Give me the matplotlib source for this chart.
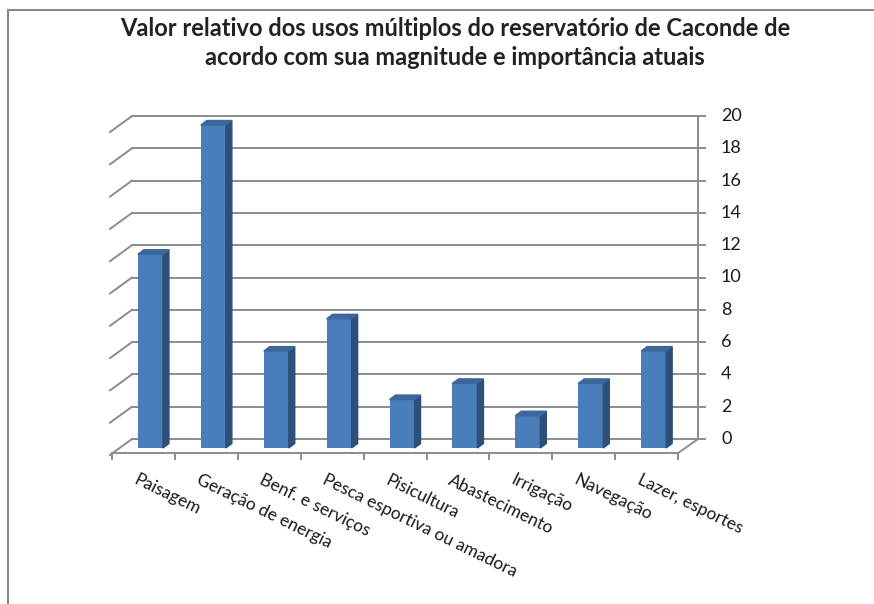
import matplotlib.pyplot as plt
from matplotlib.patches import Polygon
from matplotlib.lines import Line2D

categorias = ['Paisagem', 'Geração de energia', 'Benf. e serviços',
              'Pesca esportiva ou amadora', 'Pisicultura', 'Abastecimento',
              'Irrigação', 'Navegação', 'Lazer, esportes']
valores = [12, 20, 6, 8, 3, 4, 2, 4, 6]
yticks = [0, 2, 4, 6, 8, 10, 12, 14, 16, 18, 20]

titulo = ('Valor relativo dos usos múltiplos do reservatório de Caconde de\n'
          'acordo com sua magnitude e importância atuais')

# escala: 1 categoria = 62.9 px, 1 unidade = 16.15 px
PX = 62.9
PY = 16.15

fig = plt.figure(figsize=(8.74, 6.04), dpi=100)
ax = fig.add_axes([0, 0, 1, 1])
ax.set_xlim(-0.5 - 112 / PX, -0.5 + (874 - 112) / PX)
ax.set_ylim((439 - 604) / PY, 439 / PY)
ax.axis('off')

grid = '#8c8c8c'
n = len(categorias)
# deslocamento de profundidade (parede de fundo -> frente)
dx, dy = 20 / PX, 14 / PY
x_back0, x_back1 = -0.5 + dx, n - 0.5 + dx

# parede de fundo + parede lateral
for v in yticks:
    ax.plot([x_back0, x_back1 + 7 / PX], [v, v], color=grid, lw=1.4, zorder=1)
    ax.plot([x_back0, -0.5 - 2 / PX], [v, v - 16 / PY], color=grid, lw=1.4, zorder=1)
ax.plot([x_back1, x_back1], [0, yticks[-1]], color=grid, lw=1.4, zorder=1)

# chão
ax.plot([-0.5, n - 0.5], [-dy, -dy], color=grid, lw=1.4, zorder=1)
ax.plot([n - 0.5, x_back1], [-dy, 0], color=grid, lw=1.4, zorder=1)
for i in range(n + 1):
    ax.plot([i - 0.5, i - 0.5], [-dy, -dy - 6 / PY], color=grid, lw=1.4, zorder=1)

# barras 3D
frente, lado, topo = '#4a7ebb', '#2d4f7c', '#3c679c'
base = -9 / PY
largura = 25 / PX
ddx, ddy = 6 / PX, 4.5 / PY
xs = [i + 7 / PX for i in range(n)]
ax.bar(xs, valores, width=largura, bottom=base, color=frente, zorder=3)
for x, v in zip(xs, valores):
    xl, xr, t = x - largura / 2, x + largura / 2, base + v
    ax.add_patch(Polygon([(xr, base), (xr + ddx, base + ddy), (xr + ddx, t + ddy), (xr, t)],
                         closed=True, color=lado, zorder=3))
    ax.add_patch(Polygon([(xl, t), (xl + ddx, t + ddy), (xr + ddx, t + ddy), (xr, t)],
                         closed=True, color=topo, zorder=3))

# rótulos do eixo y
for v in yticks:
    ax.text(-0.5 + (721 - 112) / PX, v, str(v), ha='left', va='center',
            fontsize=13, family='Lato', color='#1a1a1a')

# rótulos das categorias
for i, c in enumerate(categorias):
    ax.text(i - 5 / PX, (439 - 472) / PY, c,
            rotation=-26, rotation_mode='anchor', ha='left', va='top',
            fontsize=12.5, family='Lato', color='#1a1a1a')

fig.text(0.521, 1 - 17 / 604, titulo, ha='center', va='top', fontsize=17,
         family='Lato', fontweight='bold', color='#222222', linespacing=1.3)

# borda do gráfico
fig.add_artist(Line2D([8 / 874, 1], [1 - 10 / 604, 1 - 10 / 604], color='#888888', lw=1.5))
fig.add_artist(Line2D([8 / 874, 8 / 874], [0, 1 - 10 / 604], color='#888888', lw=1.5))

fig.savefig('out.png', dpi=100)
